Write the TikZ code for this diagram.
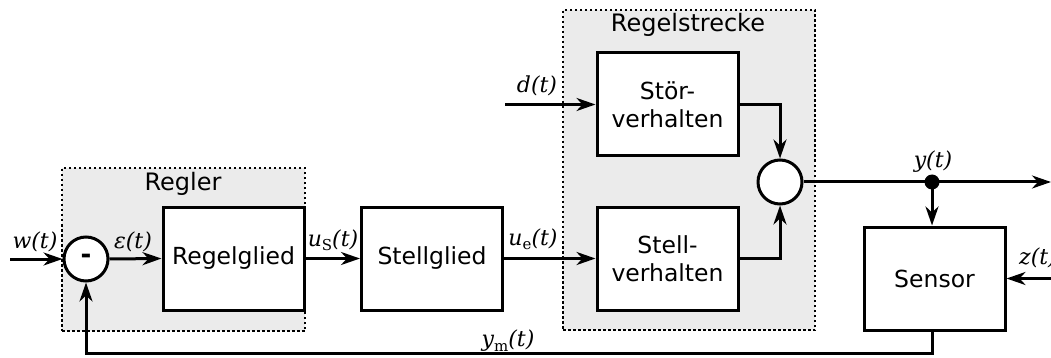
\documentclass[tikz,border=0pt]{standalone}
\usepackage{fontspec}
\setmainfont{DejaVu Sans}
\newfontfamily\sigfont{DejaVu Serif}
\usetikzlibrary{arrows.meta,positioning}

\newcommand{\sig}[1]{{\sigfont\itshape #1}}
\newcommand{\sub}[1]{\raisebox{-0.35ex}{\sigfont\fontsize{15}{15}\selectfont #1}}

\tikzset{
  >={Stealth[length=19pt,width=13pt,inset=6pt]},
  block/.style={draw, line width=3pt, fill=white, minimum width=141pt,
    minimum height=103pt, align=center, font=\fontsize{23.5}{28}\selectfont, inner sep=0pt},
  group/.style={draw, line width=2.5pt, dash pattern=on 2.5pt off 2.5pt, fill=black!8,
    inner sep=0pt},
  grouptitle/.style={font=\fontsize{24}{28}\selectfont, inner sep=0pt},
  sumpt/.style={circle, draw, line width=3pt, fill=white, minimum size=44pt,
    inner sep=0pt, font=\fontsize{26}{30}\selectfont\bfseries},
  wire/.style={line width=3pt},
  sigl/.style={font=\fontsize{22}{26}\selectfont, inner sep=0pt},
  junction/.style={circle, fill=black, minimum size=15pt, inner sep=0pt},
}

\begin{document}
\begin{tikzpicture}[x=1pt, y=-1pt]
  \useasboundingbox (0,0) rectangle (1051,358);

  % grouping frames
  \node[group, minimum width=243pt, minimum height=163pt] (regler) at (183.5,249.5) {};
  \node[grouptitle] (reglerT) at (183,184) {Regler};
  \node[group, minimum width=252pt, minimum height=320pt] (strecke) at (689,170) {};
  \node[grouptitle] (streckeT) at (688,25) {Regelstrecke};

  % blocks
  \node[block] (glied) at (233.5,258.5) {Regelglied};
  \node[block] (stell) at (432,258.5) {Stellglied};
  \node[block] (stoer) at (667.5,104.5) {Stör-\\verhalten};
  \node[block] (stellv) at (667.5,258.5) {Stell-\\verhalten};
  \node[block] (sensor) at (934.5,278.5) {Sensor};

  % summing points
  \node[sumpt] (cmp) at (86,259) {-};
  \node[sumpt] (add) at (780,182) {};
  \node[junction] (split) at (932,182) {};

  % free ends
  \coordinate (win) at (10,259);
  \coordinate (din) at (505,104.5);
  \coordinate (yout) at (1051,182);
  \coordinate (zin) at (1051,278.5);
  \coordinate (fb) at (932,353);

  % signal flow
  \draw[wire,->] (win) -- (cmp.west);
  \draw[wire,->] (cmp.east) -- (glied.west);
  \draw[wire,->] (glied.east) -- (stell.west);
  \draw[wire,->] (stell.east) -- (stellv.west);
  \draw[wire,->] (din) -- (stoer.west);
  \draw[wire,->] (stoer.east) -| (add.north);
  \draw[wire,->] (stellv.east) -| (add.south);
  \draw[wire] (add.east) -- (split.center);
  \draw[wire,->] (split.center) -- (yout);
  \draw[wire,->] (split.center) -- (split.center |- sensor.north);
  \draw[wire,->] (zin) -- (sensor.east);
  \draw[wire,->] (sensor.south -| fb) -- (fb) -| (cmp.south);

  % signal labels
  \node[sigl] (lw) at (35,242) {\sig{w(t)}};
  \node[sigl] (le) at (133,242) {\sig{ε(t)}};
  \node[sigl] (lus) at (333,240) {\sig{u}\sub{S}\sig{(t)}};
  \node[sigl] (lue) at (533,239) {\sig{u}\sub{e}\sig{(t)}};
  \node[sigl] (ld) at (537,86) {\sig{d(t)}};
  \node[sigl] (ly) at (933,162) {\sig{y(t)}};
  \node[sigl, anchor=west] (lz) at (1019,258) {\sig{z(t)}};
  \node[sigl] (lym) at (508,341) {\sig{y}\sub{m}\sig{(t)}};
\end{tikzpicture}
\end{document}
